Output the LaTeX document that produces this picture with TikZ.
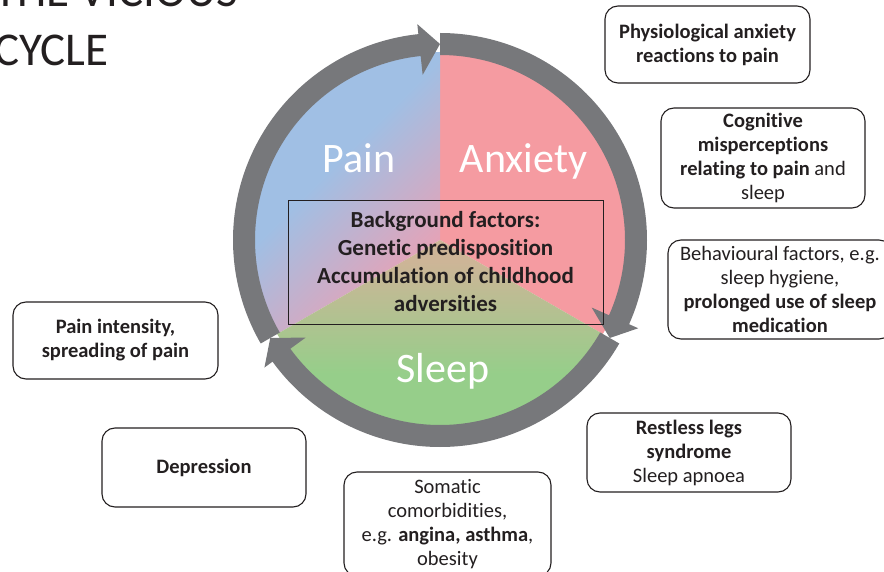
\documentclass[tikz,border=0pt]{standalone}
\usepackage{fontspec}
\setmainfont{Carlito}[Ligatures=NoCommon]
\definecolor{ringgray}{HTML}{77787B}
\definecolor{painblue}{HTML}{A0BFE4}
\definecolor{anxpink}{HTML}{F59BA1}
\definecolor{sleepgreen}{HTML}{96CE8A}
\definecolor{txt}{HTML}{231F20}
\definecolor{paintomauve}{HTML}{E6A2B6}
\definecolor{sleeptan}{HTML}{CDB597}
\pgfdeclareverticalshading{painshade}{100bp}{color(0bp)=(paintomauve); color(28bp)=(paintomauve); color(56bp)=(painblue); color(100bp)=(painblue)}
\pgfdeclareverticalshading{sleepshade}{100bp}{color(0bp)=(sleepgreen); color(44bp)=(sleepgreen); color(70bp)=(sleeptan); color(100bp)=(sleeptan)}
\begin{document}
\begin{tikzpicture}[x=1pt,y=1pt,
  box/.style={draw=txt, line width=1.1pt, rounded corners=13pt, align=center, text=txt, inner sep=0pt, font=\fontsize{20.5}{24}\selectfont},
  big/.style={text=white, font=\fontsize{42}{48}\selectfont, inner sep=0pt, anchor=base},
  ttl/.style={text=txt, font=\fontsize{47}{56}\selectfont, inner sep=0pt, anchor=base west}]
\useasboundingbox (0,0) rectangle (884,571);

% title
\node[ttl] (t1) at (-6,564) {THE VICIOUS};
\node[ttl] (t2) at (-6,505) {CYCLE};

\begin{scope}[shift={(440,331)}]
  % sectors
  \fill[anxpink] (0,0) -- (90:188) arc[start angle=90,end angle=-30,radius=188] -- cycle;
  \shade[shading=painshade, shading angle=45]
     (0,0) -- (90:188) arc[start angle=90,end angle=210,radius=188] -- cycle;
  \shade[shading=sleepshade]
     (0,0) -- (210:188) arc[start angle=210,end angle=330,radius=188] -- cycle;
  % ring: pain -> anxiety
  \fill[ringgray] (210:207) arc[start angle=210,end angle=95,radius=207]
     -- (95:185) arc[start angle=95,end angle=210,radius=185] -- cycle;
  \fill[ringgray] (96:217) -- (90:196) -- (96:166) -- cycle;
  % ring: anxiety -> sleep
  \fill[ringgray] (90:207) arc[start angle=90,end angle=-25,radius=207]
     -- (-25:185) arc[start angle=-25,end angle=90,radius=185] -- cycle;
  \fill[ringgray] (-24:217) -- (-30:196) -- (-24:166) -- cycle;
  % ring: sleep -> pain
  \fill[ringgray] (-30:207) arc[start angle=-30,end angle=-145,radius=207]
     -- (-145:185) arc[start angle=-145,end angle=-30,radius=185] -- cycle;
  \fill[ringgray] (-144:217) -- (-150:196) -- (-144:166) -- cycle;
\end{scope}

% sector labels
\node[big] (pain) at (359,398) {Pain};
\node[big] (anx) at (523.5,398) {Anxiety};
\node[big] (sleep) at (443,189) {Sleep};

% background factors
\node[draw=txt, line width=0.9pt, minimum width=315pt, minimum height=124pt, inner sep=0pt,
      align=center, text=txt, font=\fontsize{23}{28}\selectfont\bfseries] (bg) at (445.5,309)
  {Background factors:\\Genetic predisposition\\Accumulation of childhood\\adversities};

% boxes
\node[box, minimum width=205pt, minimum height=77pt] (phys) at (707.5,526.5)
  {\textbf{Physiological anxiety}\\\textbf{reactions to pain}};
\node[box, minimum width=204pt, minimum height=100pt] (cog) at (763,413)
  {\textbf{Cognitive}\\\textbf{misperceptions}\\\textbf{relating to pain} and\\sleep};
\node[box, minimum width=224pt, minimum height=99pt] (beh) at (780,281.5)
  {Behavioural factors, e.g.\\sleep hygiene,\\\textbf{prolonged use of sleep}\\\textbf{medication}};
\node[box, minimum width=204pt, minimum height=79pt] (rls) at (689,118.5)
  {\textbf{Restless legs}\\\textbf{syndrome}\\Sleep apnoea};
\node[box, minimum width=207pt, minimum height=104pt] (som) at (447.5,47)
  {Somatic\\comorbidities,\\e.g. \textbf{angina, asthma},\\obesity};
\node[box, minimum width=205pt, minimum height=77pt] (painint) at (115.5,230.5)
  {\textbf{Pain intensity,}\\\textbf{spreading of pain}};
\node[box, minimum width=204pt, minimum height=79pt] (dep) at (204,103.5)
  {\textbf{Depression}};
\end{tikzpicture}
\end{document}
